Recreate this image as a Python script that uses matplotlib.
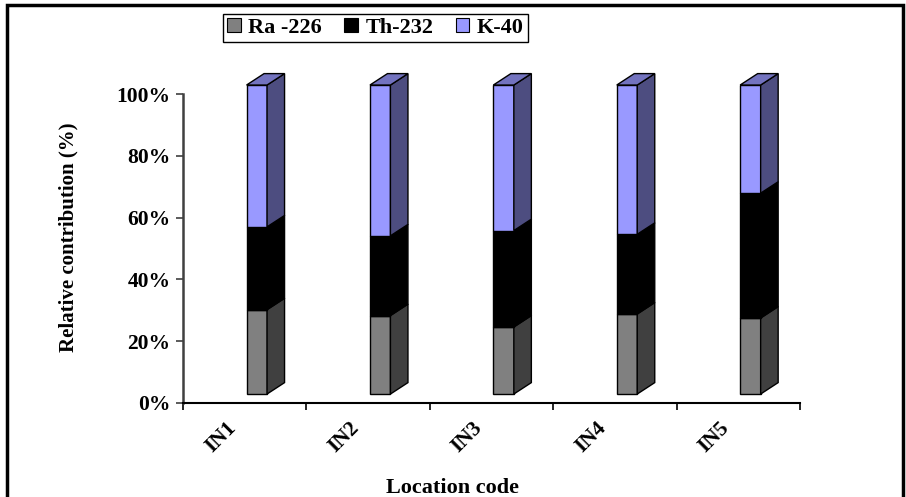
import matplotlib
matplotlib.use("Agg")
import matplotlib.pyplot as plt
from matplotlib.patches import Polygon, Patch, Rectangle
from matplotlib.transforms import ScaledTranslation
import numpy as np

categories = ["IN1", "IN2", "IN3", "IN4", "IN5"]
ra226 = [27.3, 25.4, 21.7, 25.9, 24.6]
th232 = [26.8, 25.8, 31.2, 25.8, 40.4]
k40 = [45.9, 48.8, 47.1, 48.3, 35.0]
series_names = ["Ra -226", "Th-232", "K-40"]
y_ticks = [0, 0.2, 0.4, 0.6, 0.8, 1.0]
y_ticklabels = ["0%", "20%", "40%", "60%", "80%", "100%"]

front_cols = ["#808080", "#000000", "#9999FF"]
side_cols = ["#404040", "#000000", "#4D4D80"]
top_cols = ["#A0A0A0", "#202020", "#7373BF"]

plt.rcParams["font.family"] = ["Liberation Serif", "DejaVu Serif"]
plt.rcParams["font.weight"] = "bold"

fig = plt.figure(figsize=(9.06, 4.97), dpi=100)
ax = fig.add_axes([183/906, 1-403/497, 617/906, 309/497])

n = len(categories)
x0 = np.arange(n) + 0.5 + 0.015
bw = 0.166
dx = 0.142
dy = 0.037
base = 0.029

data = np.array([ra226, th232, k40]) / 100.0
cum = np.vstack([np.zeros(n), np.cumsum(data, axis=0)])
for s in range(3):
    bottoms = base + cum[s]
    ax.bar(x0, data[s], width=bw, bottom=bottoms, align="edge",
           color=front_cols[s], edgecolor="black", linewidth=1.0,
           clip_on=False, zorder=3)
    for i in range(n):
        xr = x0[i] + bw
        yb = bottoms[i]
        yt = bottoms[i] + data[s][i]
        side = Polygon([(xr, yb), (xr + dx, yb + dy), (xr + dx, yt + dy), (xr, yt)],
                       closed=True, facecolor=side_cols[s], edgecolor="black",
                       linewidth=1.0, clip_on=False, zorder=3)
        ax.add_patch(side)
        if s == 2:
            top = Polygon([(x0[i], yt), (x0[i] + dx, yt + dy), (xr + dx, yt + dy), (xr, yt)],
                          closed=True, facecolor=top_cols[s], edgecolor="black",
                          linewidth=1.0, clip_on=False, zorder=3)
            ax.add_patch(top)

ax.set_xlim(0, n)
ax.set_ylim(0, 1)
for sp in ["top", "right"]:
    ax.spines[sp].set_visible(False)
ax.spines["left"].set_color("#404040")
ax.spines["left"].set_linewidth(1.8)
ax.spines["bottom"].set_color("black")
ax.spines["bottom"].set_linewidth(1.5)

FS = 15.5
ax.set_yticks(y_ticks)
ax.set_yticklabels(y_ticklabels, fontsize=FS, fontweight="bold")
ax.tick_params(axis="y", direction="out", length=5, width=1.2, color="#404040", pad=4)

ax.set_xticks(np.arange(n + 1))
ax.set_xticklabels([""] * (n + 1))
ax.tick_params(axis="x", which="major", direction="out", length=5, width=1.2, color="black")
ax.set_xticks(np.arange(n) + 0.5, minor=True)
ax.set_xticklabels(categories, minor=True, fontsize=FS, fontweight="bold",
                   rotation=45, ha="right", va="top", rotation_mode="anchor")
ax.tick_params(axis="x", which="minor", length=0, pad=11)
off = ScaledTranslation(-19/100, 0, fig.dpi_scale_trans)
for lab in ax.get_xticklabels(minor=True):
    lab.set_transform(lab.get_transform() + off)

fig.text(68/906, 1-237.5/497, "Relative contribution (%)", rotation=90,
         ha="center", va="center", fontsize=15, fontweight="bold")
fig.text(453/906, 1-488/497, "Location code", ha="center", va="center",
         fontsize=16, fontweight="bold")

handles = [Patch(facecolor=front_cols[i], edgecolor="black", linewidth=0.8) for i in range(3)]
leg = fig.legend(handles, series_names, loc="center", bbox_to_anchor=(375.5/906, 1-28/497),
                 ncol=3, fancybox=False, edgecolor="black", framealpha=1,
                 handlelength=0.6, handleheight=0.6, handletextpad=0.35, columnspacing=1.0,
                 borderpad=0.2, prop={"family": "Liberation Serif", "weight": "bold", "size": 16})
leg.get_frame().set_linewidth(1.0)

frame = Rectangle((7/906, -0.05), 896/906, 1.05 - 5/497, transform=fig.transFigure,
                  fill=False, edgecolor="black", linewidth=2.5, clip_on=False)
fig.patches.append(frame)

fig.savefig("out.png", dpi=100)
